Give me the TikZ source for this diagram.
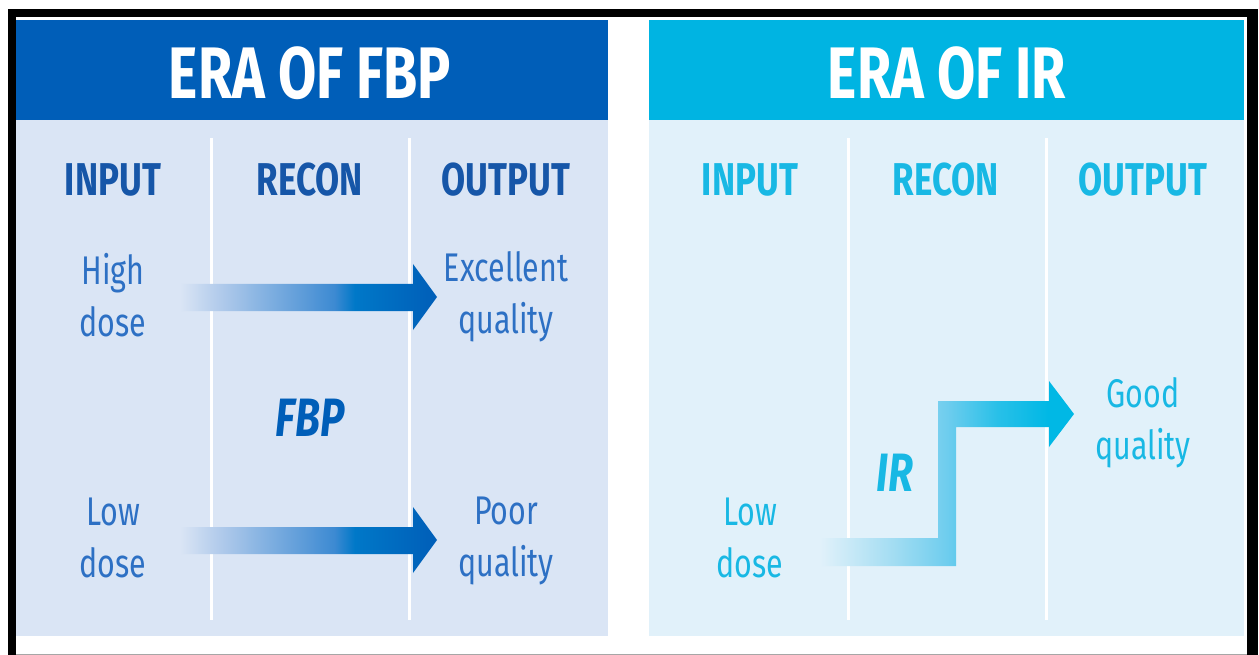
\documentclass[tikz,border=0pt]{standalone}
\usepackage{fontspec}
\setmainfont{Fira Sans}[FakeStretch=0.76]

\definecolor{fbpdark}{RGB}{0,94,184}
\definecolor{fbpbody}{RGB}{218,229,245}
\definecolor{fbphead}{RGB}{22,86,168}
\definecolor{fbptext}{RGB}{45,112,196}
\definecolor{fbpmidA}{RGB}{181,205,236}
\definecolor{fbpmidB}{RGB}{61,138,210}
\definecolor{fbpmidC}{RGB}{0,120,200}
\definecolor{irhead}{RGB}{0,180,226}
\definecolor{irbody}{RGB}{225,241,250}
\definecolor{irtext}{RGB}{24,184,228}
\definecolor{irmidA}{RGB}{160,220,242}
\definecolor{irmidB}{RGB}{110,205,238}
\definecolor{irmidC}{RGB}{40,192,232}
\definecolor{irend}{RGB}{0,184,229}

% arrow gradients: 25bp = left end of the arrow, 75bp = right end
\pgfdeclarehorizontalshading{fbpflow}{100bp}{color(0bp)=(fbpbody); color(25bp)=(fbpbody);
  color(32bp)=(fbpmidA); color(55bp)=(fbpmidB); color(59bp)=(fbpmidC);
  color(75bp)=(fbpdark); color(100bp)=(fbpdark)}
\pgfdeclarehorizontalshading{irflow}{100bp}{color(0bp)=(irbody); color(25bp)=(irbody);
  color(40bp)=(irmidA); color(50bp)=(irmidB); color(60bp)=(irmidC);
  color(70bp)=(irend); color(100bp)=(irend)}

\tikzset{
  titletext/.style={text=white, font=\fontsize{73}{80}\selectfont\bfseries, inner sep=0pt, anchor=base},
  colhead/.style={font=\fontsize{46}{50}\selectfont\bfseries, inner sep=0pt, anchor=base},
  label/.style={font=\fontsize{40}{52}\selectfont, align=center, inner sep=0pt},
  method/.style={font=\fontsize{54}{60}\selectfont\bfseries\itshape, inner sep=0pt},
  divider/.style={white, line width=3pt},
}

\begin{document}
\begin{tikzpicture}[x=1pt, y=-1pt]
  \useasboundingbox (0,0) rectangle (1259,655);
  \fill[white] (0,0) rectangle (1259,655);

  % frame
  \fill[black] (8,9) rectangle (1258,17);
  \fill[black] (8,9) rectangle (16,655);
  \fill[black] (1247,9) rectangle (1258,655);
  \draw[gray!70, line width=1pt] (16,654) -- (1247,654);

  % ---- FBP panel ----
  \fill[fbpdark] (16,20) rectangle (608,120);
  \fill[fbpbody] (16,120) rectangle (608,636);
  \draw[divider] (211,138) -- (211,620);
  \draw[divider] (409,138) -- (409,620);

  \node[titletext] (fbptitle) at (310,99) {ERA OF FBP};
  \node[colhead, text=fbphead] (fbpin) at (113,196) {INPUT};
  \node[colhead, text=fbphead] (fbprecon) at (310,196) {RECON};
  \node[colhead, text=fbphead] (fbpout) at (506,196) {OUTPUT};

  \shade[shading=fbpflow] (180,284) -- (413,284) -- (413,264) -- (437,297)
    -- (413,330) -- (413,311) -- (180,311) -- cycle;
  \shade[shading=fbpflow] (180,527) -- (413,527) -- (413,507) -- (437,540)
    -- (413,573) -- (413,554) -- (180,554) -- cycle;

  \node[label, text=fbptext] (highdose) at (113,295) {High\\dose};
  \node[label, text=fbptext] (excellent) at (506,297) {Excellent\\quality};
  \node[method, text=fbpdark] (fbp) at (310,418) {FBP};
  \node[label, text=fbptext] (lowdosefbp) at (113,538) {Low\\dose};
  \node[label, text=fbptext] (poor) at (506,541) {Poor\\quality};

  % ---- IR panel ----
  \fill[irhead] (649,20) rectangle (1244,120);
  \fill[irbody] (649,120) rectangle (1244,636);
  \draw[divider] (848,138) -- (848,620);
  \draw[divider] (1046,138) -- (1046,620);

  \node[titletext] (irtitle) at (947,99) {ERA OF IR};
  \node[colhead, text=irtext] (irin) at (750,196) {INPUT};
  \node[colhead, text=irtext] (irrecon) at (946,196) {RECON};
  \node[colhead, text=irtext] (irout) at (1143,196) {OUTPUT};

  \shade[shading=irflow] (820,538) -- (938,538) -- (938,401) -- (1049,401)
    -- (1049,381) -- (1074,414) -- (1049,447) -- (1049,427) -- (956,427)
    -- (956,566) -- (820,566) -- cycle;

  \node[label, text=irtext] (good) at (1143,423) {Good\\quality};
  \node[method, text=irtext] (ir) at (895,473) {IR};
  \node[label, text=irtext] (lowdoseir) at (750,538) {Low\\dose};
\end{tikzpicture}
\end{document}
